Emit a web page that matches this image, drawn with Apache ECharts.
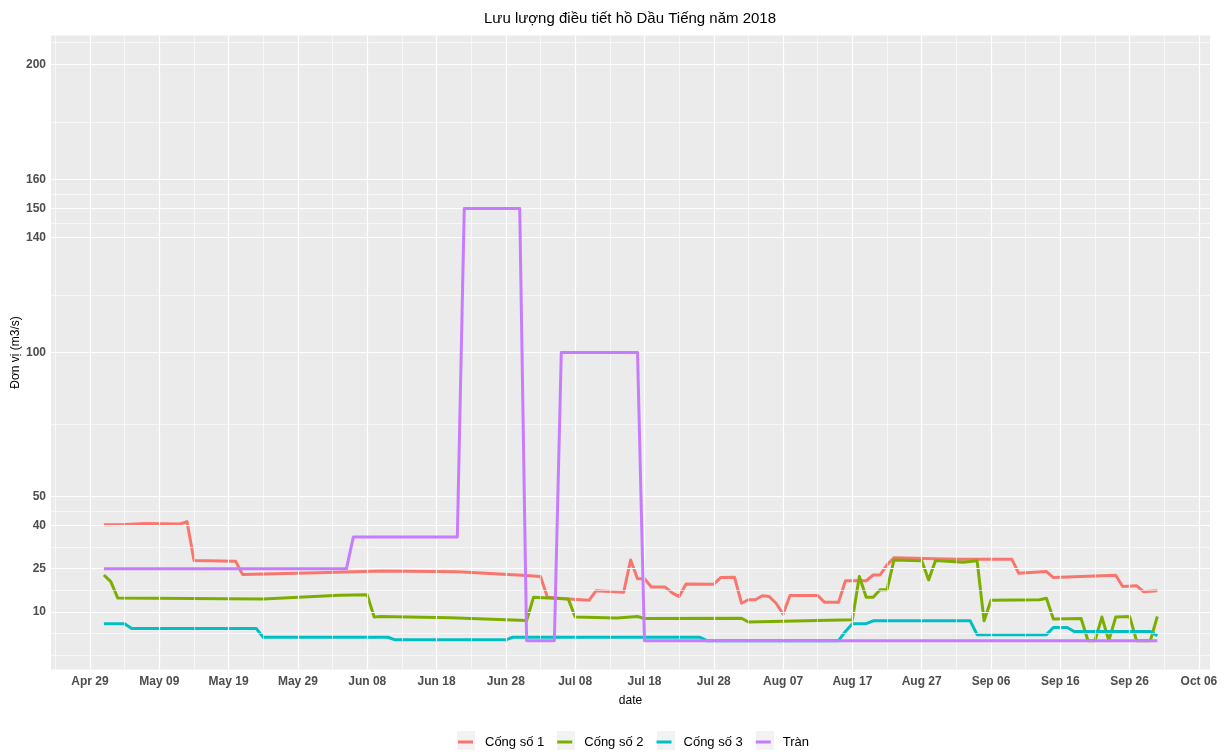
<!DOCTYPE html>
<html>
<head>
<meta charset="utf-8">
<title>Lưu lượng điều tiết hồ Dầu Tiếng năm 2018</title>
<script src="https://cdn.jsdelivr.net/npm/echarts@6/dist/echarts.min.js"></script>
<style>
  html, body { margin: 0; padding: 0; background: #fff; }
  #chart { width: 1227px; height: 752px; }
</style>
</head>
<body>
<div id="chart"></div>
<script>
// breakpoints of each series (MM-DD, 2018), values in m3/s
const cong1Dates = ["05-01", "05-04", "05-07", "05-12", "05-13", "05-14", "05-20", "05-21", "06-01", "06-10", "06-21", "07-01", "07-03", "07-04", "07-07", "07-10", "07-11", "07-15", "07-16", "07-17", "07-18", "07-19", "07-21", "07-22", "07-23", "07-24", "07-28", "07-29", "07-31", "08-01", "08-02", "08-03", "08-04", "08-05", "08-06", "08-07", "08-08", "08-12", "08-13", "08-15", "08-16", "08-19", "08-20", "08-21", "08-22", "08-23", "09-01", "09-09", "09-10", "09-14", "09-15", "09-24", "09-25", "09-27", "09-28", "09-30"];
const cong1Values = [40.2, 40.3, 40.7, 40.5, 41.3, 27.8, 27.6, 23.0, 23.6, 24.2, 23.9, 22.6, 22.3, 15.1, 14.5, 14.0, 17.3, 16.8, 28.0, 21.5, 21.5, 18.6, 18.6, 16.6, 15.3, 19.7, 19.6, 21.9, 22.0, 13.0, 14.2, 14.2, 15.6, 15.3, 13.0, 9.2, 15.7, 15.7, 13.3, 13.3, 20.8, 20.8, 22.8, 22.8, 26.3, 28.8, 28.3, 28.3, 23.4, 24.0, 21.9, 22.7, 18.8, 19.1, 17.0, 17.3];

const cong2Dates = ["05-01", "05-02", "05-03", "05-24", "06-01", "06-04", "06-08", "06-09", "06-10", "06-20", "07-01", "07-02", "07-07", "07-08", "07-14", "07-17", "07-18", "08-01", "08-02", "08-17", "08-18", "08-19", "08-20", "08-21", "08-22", "08-23", "08-27", "08-28", "08-29", "09-02", "09-04", "09-05", "09-06", "09-13", "09-14", "09-15", "09-19", "09-20", "09-21", "09-22", "09-23", "09-24", "09-26", "09-27", "09-29", "09-30"];
const cong2Values = [22.8, 20.5, 14.8, 14.5, 15.4, 15.8, 15.9, 8.2, 8.4, 8.0, 7.0, 15.1, 14.5, 8.2, 7.9, 8.4, 7.7, 7.8, 6.5, 7.3, 22.3, 15.1, 15.1, 17.7, 17.7, 28.0, 27.7, 21.1, 27.8, 27.2, 27.7, 6.9, 14.0, 14.2, 14.7, 7.5, 7.7, 0, 0, 8.2, 0, 8.2, 8.4, 0, 0, 8.4];

const cong3Dates = ["05-01", "05-04", "05-05", "05-23", "05-24", "06-11", "06-12", "06-28", "06-29", "07-26", "07-27", "08-15", "08-16", "08-17", "08-19", "08-20", "09-03", "09-04", "09-14", "09-15", "09-17", "09-18", "09-29", "09-30"];
const cong3Values = [5.9, 5.9, 4.2, 4.2, 1.2, 1.2, 0.3, 0.3, 1.2, 1.2, 0, 0, 3.2, 5.9, 5.9, 6.9, 6.9, 2.1, 2.1, 4.6, 4.6, 3.2, 3.2, 1.7];

const tranDates = ["05-01", "06-05", "06-06", "06-21", "06-22", "06-30", "07-01", "07-05", "07-06", "07-17", "07-18", "09-30"];
const tranValues = [25, 25, 36, 36, 150, 150, 0, 0, 100, 100, 0, 0];

const seriesNames = ["Cống số 1", "Cống số 2", "Cống số 3", "Tràn"];
const seriesColors = ["#F8766D", "#7CAE00", "#00BFC4", "#C77CFF"];

// axis breaks
const yBreaks = [10, 25, 40, 50, 100, 140, 150, 160, 200];
const yMinor = [-5, 2.5, 17.5, 32.5, 45, 75, 120, 145, 155, 180, 207.5];
const xBreaks = [0, 10, 20, 30, 40, 50, 60, 70, 80, 90, 100, 110, 120, 130, 140, 150, 160]; // days from Apr 29
const xMinor = [-5, 5, 15, 25, 35, 45, 55, 65, 75, 85, 95, 105, 115, 125, 135, 145, 155];

const monthNames = ["Jan", "Feb", "Mar", "Apr", "May", "Jun", "Jul", "Aug", "Sep", "Oct", "Nov", "Dec"];
const start = Date.UTC(2018, 3, 29);

function dayOf(s) {
  const p = s.split("-");
  return (Date.UTC(2018, +p[0] - 1, +p[1]) - start) / 86400000;
}

function dayLabel(v) {
  const d = new Date(start + Math.round(v) * 86400000);
  const dd = d.getUTCDate();
  return monthNames[d.getUTCMonth()] + " " + (dd < 10 ? "0" + dd : dd);
}

function pairs(dates, values) {
  return dates.map((d, i) => [dayOf(d), values[i]]);
}

const allDates = [cong1Dates, cong2Dates, cong3Dates, tranDates];
const allValues = [cong1Values, cong2Values, cong3Values, tranValues];

const chart = echarts.init(document.getElementById("chart"), null, { renderer: "canvas" });

// white grid lines like ggplot
const gridLines = {
  type: "line",
  data: [],
  silent: true,
  z: 1,
  markLine: {
    silent: true,
    symbol: "none",
    animation: false,
    label: { show: false },
    data: []
      .concat(yMinor.map(v => ({ yAxis: v, lineStyle: { color: "#fff", width: 0.6, type: "solid" } })))
      .concat(xMinor.map(v => ({ xAxis: v, lineStyle: { color: "#fff", width: 0.6, type: "solid" } })))
      .concat(yBreaks.map(v => ({ yAxis: v, lineStyle: { color: "#fff", width: 1.2, type: "solid" } })))
      .concat(xBreaks.map(v => ({ xAxis: v, lineStyle: { color: "#fff", width: 1.2, type: "solid" } }))),
  },
};

const lineSeries = seriesNames.map((name, i) => ({
  name: name,
  type: "line",
  data: pairs(allDates[i], allValues[i]),
  showSymbol: false,
  z: 2 + i,
  color: seriesColors[i],
  lineStyle: { width: 3, color: seriesColors[i], join: "round" },
  animation: false,
}));

const axisText = { color: "#4D4D4D", fontSize: 12, fontWeight: "bold", fontFamily: "Liberation Sans, Arial, sans-serif" };

// grey boxes behind the legend keys (ggplot legend.key)
const keyBoxes = [457, 557, 657, 756].map(x => ({
  type: "rect",
  left: x,
  top: 731,
  z: 0,
  shape: { width: 18, height: 19 },
  style: { fill: "#F2F2F2" },
}));

chart.setOption({
  animation: false,
  textStyle: { fontFamily: "Liberation Sans, Arial, sans-serif" },
  graphic: [
    {
      type: "text",
      left: 629 - 145,
      top: 11,
      style: {
        text: "Lưu lượng điều tiết hồ Dầu Tiếng năm 2018",
        fontSize: 15,
        fill: "#000",
        fontFamily: "Liberation Sans, Arial, sans-serif",
      },
    },
  ].concat(keyBoxes),
  grid: {
    left: 51,
    right: 17,
    top: 35.5,
    bottom: 82.5,
    outerBoundsMode: "none",
    containLabel: false,
    show: true,
    backgroundColor: "#EBEBEB",
    borderWidth: 0,
  },
  legend: {
    data: seriesNames,
    left: 453,
    top: 730.5,
    icon: "rect",
    itemWidth: 15,
    itemHeight: 3,
    itemGap: 13,
    textStyle: { fontSize: 13, color: "#000", padding: [0, 0, 0, 7] },
  },
  xAxis: {
    type: "value",
    min: -5.63,
    max: 161.6,
    name: "date",
    nameLocation: "middle",
    nameGap: 25,
    nameMoveOverlap: false,
    nameTextStyle: { fontSize: 12, color: "#000" },
    axisLine: { show: false },
    axisTick: { show: true, customValues: xBreaks, length: 3, lineStyle: { color: "#333" } },
    axisLabel: Object.assign({ customValues: xBreaks, margin: 6, formatter: dayLabel }, axisText),
    splitLine: { show: false },
  },
  yAxis: {
    type: "value",
    min: -10,
    max: 210,
    name: "Đơn vị (m3/s)",
    nameLocation: "middle",
    nameGap: 29,
    nameMoveOverlap: false,
    nameTextStyle: { fontSize: 12, color: "#000" },
    axisLine: { show: false },
    axisTick: { show: true, customValues: yBreaks, length: 3, lineStyle: { color: "#333" } },
    axisLabel: Object.assign({ customValues: yBreaks, margin: 5 }, axisText),
    splitLine: { show: false },
  },
  series: [gridLines].concat(lineSeries),
});
</script>
</body>
</html>
